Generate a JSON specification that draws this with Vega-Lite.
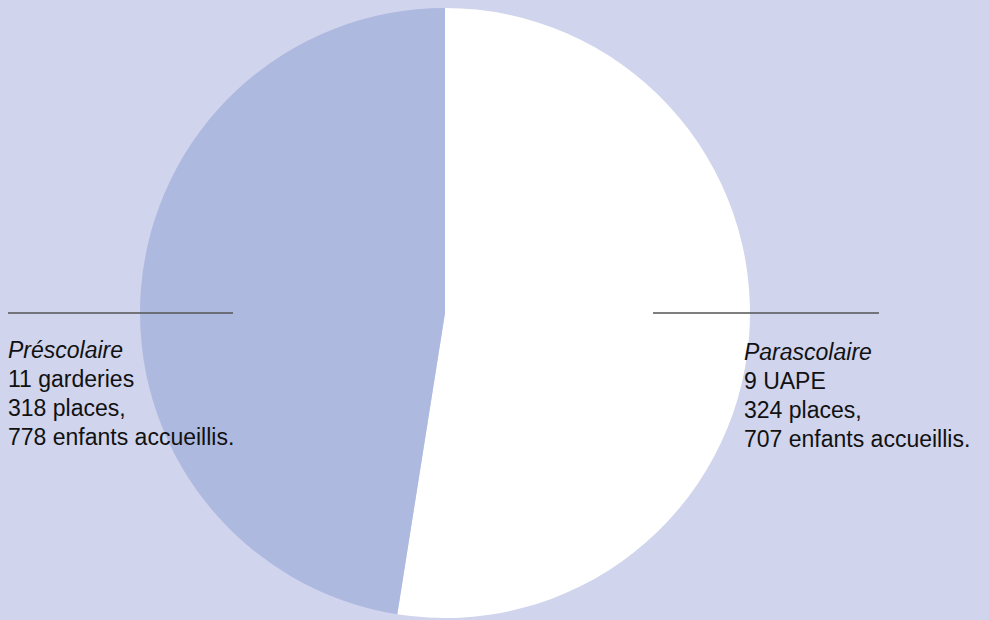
{
  "$schema": "https://vega.github.io/schema/vega-lite/v6.json",
  "width": 989,
  "height": 620,
  "autosize": {"type": "fit", "contains": "padding"},
  "padding": 0,
  "background": "#D0D4EC",
  "config": {"view": {"stroke": null}, "text": {"font": "Liberation Sans"}},
  "datasets": {
    "pie": [
      {"secteur": "Parascolaire", "part": 52.5, "ordre": 1},
      {"secteur": "Préscolaire", "part": 47.5, "ordre": 2}
    ],
    "traits": [
      {"cote": "gauche", "x": -1.4328, "x2": -0.6951, "y": 0},
      {"cote": "droite", "x": 0.682, "x2": 1.423, "y": 0}
    ],
    "lignes": [
      {"secteur": "Préscolaire", "rang": 0, "texte": "Préscolaire", "x": -1.4328, "y": -0.1475},
      {"secteur": "Préscolaire", "rang": 1, "texte": "11 garderies", "x": -1.4328, "y": -0.2426},
      {"secteur": "Préscolaire", "rang": 2, "texte": "318 places,", "x": -1.4328, "y": -0.3377},
      {"secteur": "Préscolaire", "rang": 3, "texte": "778 enfants accueillis.", "x": -1.4328, "y": -0.4328},
      {"secteur": "Parascolaire", "rang": 0, "texte": "Parascolaire", "x": 0.9803, "y": -0.1541},
      {"secteur": "Parascolaire", "rang": 1, "texte": "9 UAPE", "x": 0.9803, "y": -0.2492},
      {"secteur": "Parascolaire", "rang": 2, "texte": "324 places,", "x": 0.9803, "y": -0.3443},
      {"secteur": "Parascolaire", "rang": 3, "texte": "707 enfants accueillis.", "x": 0.9803, "y": -0.4393}
    ]
  },
  "resolve": {"scale": {"x": "shared", "y": "shared"}},
  "layer": [
    {
      "data": {"name": "pie"},
      "mark": {"type": "arc", "outerRadius": 305, "stroke": null},
      "encoding": {
        "theta": {"field": "part", "type": "quantitative", "stack": true},
        "order": {"field": "ordre", "type": "quantitative"},
        "color": {
          "field": "secteur",
          "type": "nominal",
          "scale": {"domain": ["Parascolaire", "Préscolaire"], "range": ["#FFFFFF", "#AEB9E0"]},
          "legend": null
        },
        "x": {"datum": 0, "type": "quantitative", "scale": {"domain": [-1.45902, 1.78361], "nice": false, "zero": false}, "axis": null},
        "y": {"datum": 0, "type": "quantitative", "scale": {"domain": [-1.00656, 1.02623], "nice": false, "zero": false}, "axis": null}
      }
    },
    {
      "data": {"name": "traits"},
      "mark": {"type": "rule", "color": "#555555", "strokeWidth": 1.5},
      "encoding": {
        "x": {"field": "x", "type": "quantitative"},
        "x2": {"field": "x2"},
        "y": {"field": "y", "type": "quantitative"}
      }
    },
    {
      "data": {"name": "lignes"},
      "transform": [{"filter": "datum.rang == 0"}],
      "mark": {"type": "text", "align": "left", "baseline": "alphabetic", "fontSize": 23, "fontStyle": "italic", "color": "#111111"},
      "encoding": {
        "x": {"field": "x", "type": "quantitative"},
        "y": {"field": "y", "type": "quantitative"},
        "text": {"field": "texte"}
      }
    },
    {
      "data": {"name": "lignes"},
      "transform": [{"filter": "datum.rang > 0"}],
      "mark": {"type": "text", "align": "left", "baseline": "alphabetic", "fontSize": 23, "color": "#111111"},
      "encoding": {
        "x": {"field": "x", "type": "quantitative"},
        "y": {"field": "y", "type": "quantitative"},
        "text": {"field": "texte"}
      }
    }
  ]
}
